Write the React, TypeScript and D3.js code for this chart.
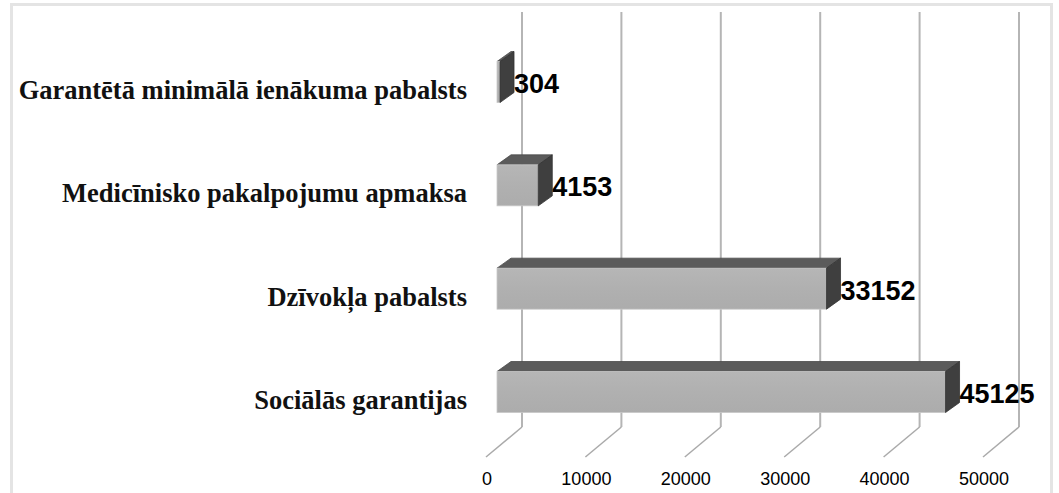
import React from 'react';
import * as d3 from 'd3';

const categories = [
    'Garantētā minimālā ienākuma pabalsts',
    'Medicīnisko pakalpojumu apmaksa',
    'Dzīvokļa pabalsts',
    'Sociālās garantijas',
];
const values = [304, 4153, 33152, 45125];
const ticks = [0, 10000, 20000, 30000, 40000, 50000];

const width = 1059;
const height = 493;

const App: React.FC = () => {
    // value -> horizontal length
    const x = d3.scaleLinear().domain([0, 50000]).range([0, 497]);
    const y = d3.scalePoint<string>().domain(categories).range([82, 392]);

    const wallX = 522; // back wall origin
    const wallTop = 12;
    const wallBottom = 427;
    const floorDx = -36;
    const floorDy = 30;

    const barX = 497; // front face of bars
    const barH = 41;
    const depthX = 14;
    const depthY = -10;

    return (
        <svg width={width} height={height} style={{ position: 'absolute', left: 0, top: 0, background: '#fff' }}>
            <defs>
                <linearGradient id="front" x1="0" y1="0" x2="0" y2="1">
                    <stop offset="0" stopColor="#b6b6b6" />
                    <stop offset="0.5" stopColor="#b0b0b0" />
                    <stop offset="1" stopColor="#acacac" />
                </linearGradient>
            </defs>
            <rect x={11.5} y={4.5} width={1040} height={520} fill="none" stroke="#e4e4e4" strokeWidth={3} />

            {/* back wall gridlines and floor */}
            {ticks.map((t) => {
                const gx = wallX + x(t);
                return (
                    <g key={t}>
                        <line x1={gx} y1={wallTop} x2={gx} y2={wallBottom} stroke="#b5b5b5" strokeWidth={2} />
                        <line x1={gx} y1={wallBottom} x2={gx + floorDx} y2={wallBottom + floorDy} stroke="#aaaaaa" strokeWidth={1.5} />
                        <text x={gx + floorDx + 1} y={485} textAnchor="middle" fontFamily="'Liberation Sans', Arial, sans-serif" fontSize={18} fill="#000">
                            {t}
                        </text>
                    </g>
                );
            })}

            {categories.map((c, i) => {
                const cy = y(c) as number;
                const w = x(values[i]);
                const top = cy - barH / 2;
                const bottom = cy + barH / 2;
                const topFace = [
                    [barX, top], [barX + w, top], [barX + w + depthX, top + depthY], [barX + depthX, top + depthY],
                ];
                const sideFace = [
                    [barX + w, top], [barX + w + depthX, top + depthY], [barX + w + depthX, bottom + depthY], [barX + w, bottom],
                ];
                return (
                    <g key={c}>
                        <text x={467} y={cy + 17} textAnchor="end" fontFamily="'Liberation Serif', 'Times New Roman', serif" fontWeight="bold" fontSize={26.5} fill="#111">
                            {c}
                        </text>
                        <polygon points={topFace.map((p) => p.join(',')).join(' ')} fill="#5b5b5b" stroke="#4a4a4a" strokeWidth={0.8} />
                        <rect x={barX} y={top} width={w} height={barH} fill="url(#front)" stroke="#c8c8c8" strokeWidth={0.8} />
                        <polygon points={sideFace.map((p) => p.join(',')).join(' ')} fill="#3f3f3f" stroke="#333" strokeWidth={0.8} />
                        <text x={barX + w + depthX} y={cy + 11} fontFamily="'Liberation Sans', Arial, sans-serif" fontWeight="bold" fontSize={27} fill="#000">
                            {values[i]}
                        </text>
                    </g>
                );
            })}
        </svg>
    );
};

export default App;
